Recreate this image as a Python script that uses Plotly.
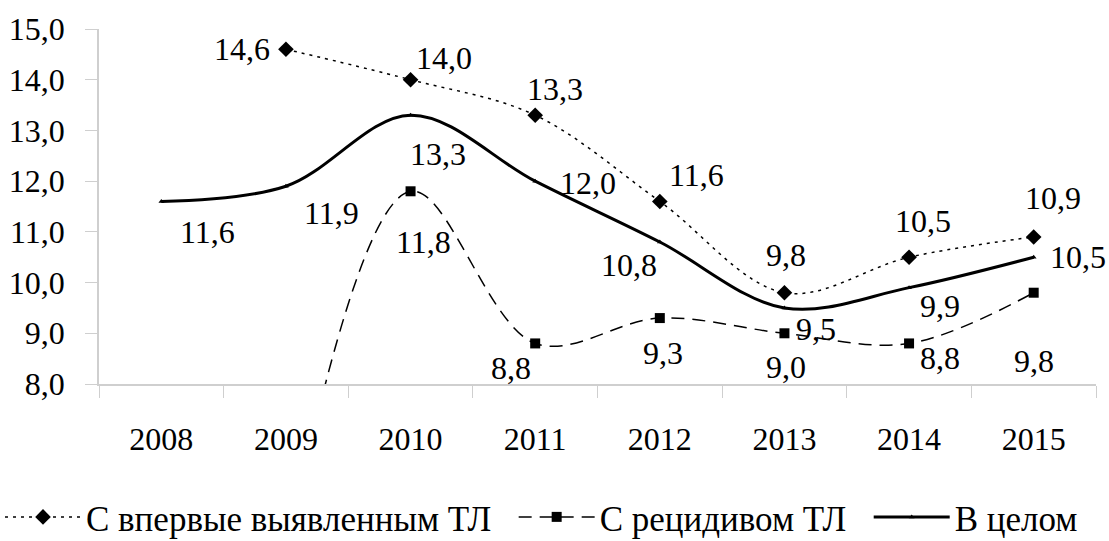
import plotly.graph_objects as go

years = ["2008", "2009", "2010", "2011", "2012", "2013", "2014", "2015"]
new_cases = [None, 14.6, 14.0, 13.3, 11.6, 9.8, 10.5, 10.9]
relapse = [None, 4.6, 11.8, 8.8, 9.3, 9.0, 8.8, 9.8]
overall = [11.6, 11.9, 13.3, 12.0, 10.8, 9.5, 9.9, 10.5]
names = ["С впервые выявленным ТЛ", "С рецидивом ТЛ", "В целом"]

# label offsets (style only): (xshift, yshift) per point
off_new = [None, (-44, 0), (33, 22), (20, 26), (37, 26), (2, 38), (14, 36), (19, 39)]
off_rel = [None, None, (13, -51), (-24, -25), (3, -35), (2, -34), (31, -15), (0, -68)]
off_all = [(46, -31), (46, -27), (27, -39), (53, -2), (-31, -23), (32, -21), (31, -18), (44, 0)]
legend_pad = ["\u00a0" * 2, "\u00a0" * 2, ""]

FONT = "Liberation Serif, Times New Roman, serif"
fig = go.Figure()

fig.add_trace(go.Scatter(
    x=years, y=new_cases, name=names[0] + legend_pad[0], mode="lines+markers",
    line=dict(color="black", width=1.5, dash="3px,5px", shape="spline"),
    marker=dict(symbol="diamond", size=12, color="black"),
))
fig.add_trace(go.Scatter(
    x=years, y=relapse, name=names[1] + legend_pad[1], mode="lines+markers",
    line=dict(color="black", width=1.5, dash="13px,8px", shape="spline"),
    marker=dict(symbol="square", size=10, color="black"),
))
fig.add_trace(go.Scatter(
    x=years, y=overall, name=names[2] + legend_pad[2], mode="lines+markers",
    line=dict(color="black", width=3, shape="spline"),
    marker=dict(symbol="triangle-up", size=5, color="black"),
))

for series, offs in ((new_cases, off_new), (relapse, off_rel), (overall, off_all)):
    for i, (v, o) in enumerate(zip(series, offs)):
        if v is None or o is None or v < 8:
            continue
        fig.add_annotation(
            x=i, y=v, xref="x", yref="y",
            text=("%.1f" % v).replace(".", ","),
            showarrow=False, xanchor="center", yanchor="middle",
            xshift=o[0], yshift=o[1],
            font=dict(family=FONT, size=32, color="black"),
        )

fig.update_layout(
    width=1109, height=541,
    margin=dict(l=99, r=13, t=29, b=157, autoexpand=False),
    paper_bgcolor="white", plot_bgcolor="white",
    separators=", ",
    font=dict(family=FONT, size=32, color="black"),
    showlegend=True,
    legend=dict(
        orientation="h", xref="paper", yref="paper",
        x=-0.0993, xanchor="left", y=-0.375, yanchor="middle",
        font=dict(family=FONT, size=35, color="black"),
        itemwidth=76, tracegroupgap=0,
    ),
)
fig.update_xaxes(
    type="category", range=[-0.5, 7.5],
    showline=True, linecolor="#cfcfcf", linewidth=1.5,
    ticks="outside", tickson="boundaries", ticklen=12, tickcolor="#cfcfcf",
    ticklabelstandoff=26, showgrid=False, zeroline=False,
    tickfont=dict(family=FONT, size=32, color="black"),
)
fig.update_yaxes(
    range=[8, 15], dtick=1, tickformat=".1f",
    showline=True, linecolor="#cfcfcf", linewidth=1.5,
    ticks="outside", ticklen=12, tickcolor="#cfcfcf",
    ticklabelstandoff=14, showgrid=False, zeroline=False,
    tickfont=dict(family=FONT, size=32, color="black"),
)

fig.write_html("out.html", config={"displayModeBar": False},
               post_script="document.body.style.margin='0';")
